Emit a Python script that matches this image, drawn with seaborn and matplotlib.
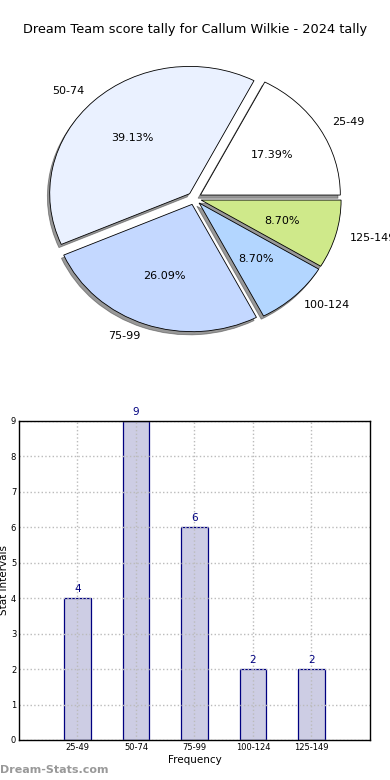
import numpy as np
import pandas as pd
import matplotlib
matplotlib.use('Agg')
import matplotlib.pyplot as plt
import seaborn as sns

# data
intervals = ['25-49', '50-74', '75-99', '100-124', '125-149']
counts = [4, 9, 6, 2, 2]
pie_colors = ['#ffffff', '#eaf1ff', '#c4d8ff', '#b3d6ff', '#cfe98a']
title = 'Dream Team score tally for Callum Wilkie - 2024 tally'

sns.set_style('white')
plt.rcParams['font.family'] = ['DejaVu Sans']
plt.rcParams['text.color'] = 'black'
plt.rcParams['axes.labelcolor'] = 'black'
plt.rcParams['xtick.color'] = 'black'
plt.rcParams['ytick.color'] = 'black'

fig = plt.figure(figsize=(3.9, 7.8), dpi=100)
fig.text(0.5, 0.962, title, ha='center', va='center', fontsize=9.3)

# pie chart (stretched, not equal aspect)
ax1 = fig.add_axes([0.05, 0.5417, 0.897, 0.408])
wedges, texts, autotexts = ax1.pie(counts, labels=intervals, colors=pie_colors,
                                   explode=[0.05] * len(counts), autopct='%1.2f%%',
                                   shadow={'ox': -0.012, 'oy': -0.018, 'color': '#333333'},
                                   startangle=0,
                                   wedgeprops={'edgecolor': 'black', 'linewidth': 0.6},
                                   textprops={'fontsize': 8, 'color': 'black'})
ax1.set_aspect('auto')
ax1.set_xlim(-1.25, 1.25)
ax1.set_ylim(-1.25, 1.25)

# bar chart
df = pd.DataFrame({'interval': intervals, 'count': counts})
ax2 = fig.add_axes([0.0487, 0.0513, 0.9, 0.409])
sns.barplot(data=df, x='interval', y='count', order=intervals, width=0.45,
            color='#cdcde4', edgecolor='#000080', linewidth=0.9, saturation=1,
            ax=ax2, zorder=1)
for p, c in zip(ax2.patches, counts):
    ax2.text(p.get_x() + p.get_width() / 2, c + 0.12, str(c), ha='center', va='bottom',
             color='#000080', fontsize=7.5)
ax2.set_xlim(-1, 5)
ax2.set_ylim(0, 9)
ax2.set_yticks(range(10))
ax2.grid(True, linestyle=':', color='#bbbbbb', linewidth=1, zorder=2)
ax2.set_axisbelow(False)
for s in ax2.spines.values():
    s.set_visible(True)
    s.set_color('black')
    s.set_linewidth(1)
    s.set_zorder(4)
ax2.tick_params(labelsize=6, direction='in', length=3, pad=2)
ax2.set_xlabel('Frequency', fontsize=7.5, labelpad=2.5)
ax2.set_ylabel('Stat Intervals', fontsize=7.5, labelpad=1)

fig.text(0.0, 0.006, 'Dream-Stats.com', fontsize=8, color='#999999', fontweight='bold',
         ha='left', va='bottom')

fig.savefig('out.png', dpi=100)
